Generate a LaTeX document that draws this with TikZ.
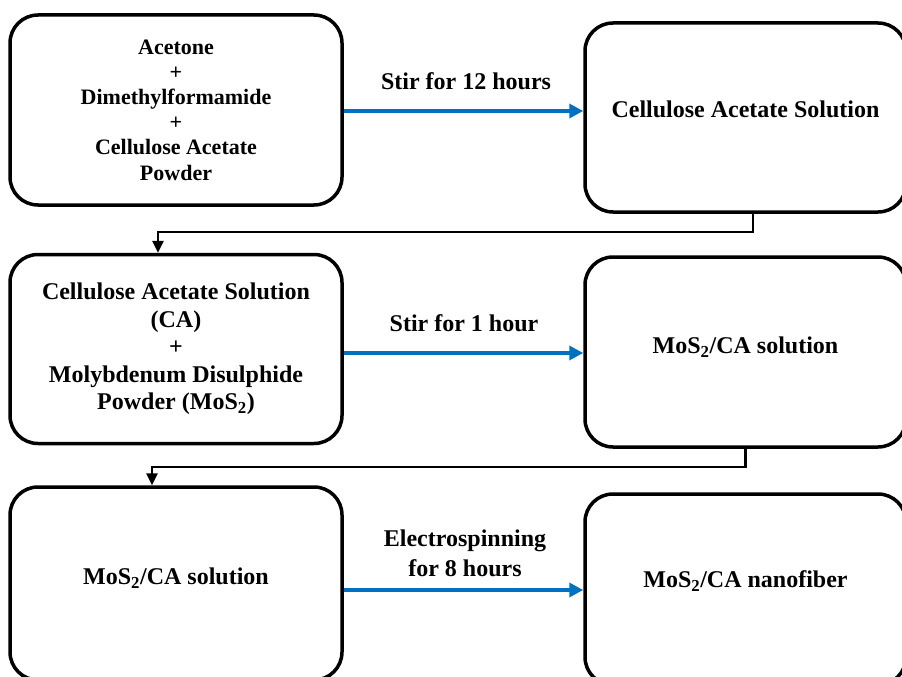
\documentclass[tikz,border=0pt]{standalone}
\usepackage{fontspec}
\setmainfont{Liberation Serif}
\usetikzlibrary{arrows.meta}
\definecolor{stirblue}{RGB}{0,112,192}
\tikzset{
  stage/.style={draw, line width=3.5pt, rounded corners=28pt, align=center,
    minimum width=332pt, minimum height=190pt, inner sep=0pt,
    font=\bfseries\fontsize{24}{27}\selectfont},
  stirarrow/.style={draw=stirblue, line width=3.5pt, -{Triangle[length=14pt,width=14pt]}},
  joinarrow/.style={draw, line width=2.5pt, -{Triangle[length=12pt,width=11pt]}},
  steplabel/.style={align=center, inner sep=0pt, font=\bfseries\fontsize{24}{30}\selectfont}
}
\begin{document}
\begin{tikzpicture}[x=1pt,y=-1pt]
\useasboundingbox (0,0) rectangle (902,677);
\clip (0,0) rectangle (902,677);

\node[stage, font=\bfseries\fontsize{22}{25.2}\selectfont] (mix) at (176,110) {Acetone\\+\\Dimethylformamide\\+\\Cellulose Acetate\\Powder};
\node[stage, minimum width=321pt, minimum height=189pt, text depth=17pt] (ca) at (745.5,117.5) {Cellulose Acetate Solution};
\node[stage, minimum height=189pt, font=\bfseries\fontsize{24}{27.5}\selectfont] (camix) at (176,349) {Cellulose Acetate Solution\\(CA)\\+\\Molybdenum Disulphide\\Powder (MoS\textsubscript{2})};
\node[stage, minimum width=321pt, text depth=13pt] (mos) at (745.5,352) {MoS\textsubscript{2}/CA solution};
\node[stage, minimum height=193pt, text depth=15pt] (mosin) at (176,583.5) {MoS\textsubscript{2}/CA solution};
\node[stage, minimum width=321pt, minimum height=191pt, text depth=21pt] (fiber) at (745.5,589.5) {MoS\textsubscript{2}/CA nanofiber};

\node[steplabel] (t1) at (466,81) {Stir for 12 hours};
\node[steplabel] (t2) at (464,323) {Stir for 1 hour};
\node[steplabel] (t3) at (465,553) {Electrospinning\\for 8 hours};

\path[stirarrow] ([yshift=-1pt]mix.east) -- ([yshift=-1pt]mix.east -| ca.west);
\path[stirarrow] ([yshift=-4pt]camix.east) -- ([yshift=-4pt]camix.east -| mos.west);
\path[stirarrow] ([yshift=-6.5pt]mosin.east) -- ([yshift=-6.5pt]mosin.east -| fiber.west);

\path[joinarrow] ([xshift=7.5pt]ca.south) |- ++(-100,18) -| ([xshift=-18pt]camix.north);
\path[joinarrow] (mos.south) |- ++(-100,18) -| ([xshift=-24pt]mosin.north);
\end{tikzpicture}
\end{document}
